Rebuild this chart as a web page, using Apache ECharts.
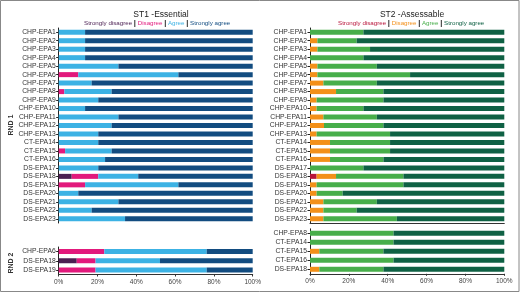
<!DOCTYPE html>
<html>
<head>
<meta charset="utf-8">
<script src="https://cdn.jsdelivr.net/npm/echarts@6/dist/echarts.min.js"></script>
<style>
html,body{margin:0;padding:0;background:#fff;}
#main{width:520px;height:293px;}
</style>
</head>
<body>
<div id="main"></div>
<script>
// categories
var cats1 = ['CHP-EPA1','CHP-EPA2','CHP-EPA3','CHP-EPA4','CHP-EPA5','CHP-EPA6','CHP-EPA7','CHP-EPA8','CHP-EPA9','CHP-EPA10','CHP-EPA11','CHP-EPA12','CHP-EPA13','CT-EPA14','CT-EPA15','CT-EPA16','DS-EPA17','DS-EPA18','DS-EPA19','DS-EPA20','DS-EPA21','DS-EPA22','DS-EPA23'];
var cats1r2 = ['CHP-EPA6','DS-EPA18','DS-EPA19'];
var cats2r2 = ['CHP-EPA8','CT-EPA14','CT-EPA15','CT-EPA16','DS-EPA18'];
var ticks = [0,20,40,60,80,100];

// ST1 essential, round 1
var st1_sd = [0,0,0,0,0,0,0,0,0,0,0,0,0,0,0,0,0,6.7,0,0,0,0,0];
var st1_d  = [0,0,0,0,0,10.1,0,2.9,0,0,0,0,0,0,3.3,0,0,13.7,13.6,0,0,0,0];
var st1_a  = [13.6,13.6,13.6,13.6,30.8,51.6,17,24.4,20.4,13.6,30.8,27.3,20.4,20.4,24,23.9,20.4,20.6,48.1,10.1,30.8,17,34.2];
var st1_sa = [86.4,86.4,86.4,86.4,69.2,38.3,83,72.7,79.6,86.4,69.2,72.7,79.6,79.6,72.7,76.1,79.6,59,38.3,89.9,69.2,83,65.8];
// ST1 essential, round 2
var st1r2_sd = [0,9.3,0];
var st1r2_d  = [23.5,9.7,19];
var st1r2_a  = [52.8,33.2,57.3];
var st1r2_sa = [23.7,47.8,23.7];

// ST2 assessable, round 1
var st2_sd = [0,0,0,0,0,0,0,0,0,0,0,0,0,0,0,0,0,3.4,0,0,0,0,0];
var st2_d  = [0,3.8,3.8,0,3.8,3.8,6.9,13.4,3.4,3.4,6.9,7.2,3.4,10.3,10.3,10.3,0,10,3.4,3.4,6.9,6.9,6.9];
var st2_a  = [27.5,20.2,27.1,27.5,30.6,47.7,27.5,24.4,34.4,24.1,27.5,30.6,37.8,30.9,30.9,27.5,27.5,34.7,44.7,13.4,27.5,17.1,37.8];
var st2_sa = [72.5,76,69.1,72.5,65.6,48.5,65.6,62.2,62.2,72.5,65.6,62.2,58.8,58.8,58.8,62.2,72.5,51.9,51.9,83.2,65.6,76,55.3];
// ST2 assessable, round 2
var st2r2_sd = [0,0,0,0,0];
var st2r2_d  = [0,0,4.8,0,4.8];
var st2r2_a  = [43,43,33,43,33];
var st2r2_sa = [57,57,62.2,57,62.2];

var col1 = ['#4b1f52','#e2197c','#3cb2e4','#124c80'];
var col2 = ['#b8143a','#f39019','#47ae4a','#0f6144'];
var font = 'Liberation Sans';

function xAx(grid,showLabel,showLine){
	return {
		type:'value', gridIndex:grid, min:ticks[0], max:ticks[ticks.length-1], interval:20,
		splitLine:{show:false},
		axisLine:{show:showLine,lineStyle:{color:'#333',width:1}},
		axisTick:{show:showLabel,length:2,lineStyle:{color:'#333'}},
		axisLabel:{show:showLabel,formatter:'{value}%',fontSize:6.5,color:'#444',fontFamily:font,margin:4}
	};
}
function yAx(grid,cats){
	return {
		type:'category', gridIndex:grid, data:cats, inverse:true,
		axisLine:{show:true,lineStyle:{color:'#222',width:1}},
		axisTick:{show:true,length:2.5,alignWithLabel:true,lineStyle:{color:'#222'}},
		axisLabel:{fontSize:6.8,color:'#333',fontFamily:font,margin:3,interval:0}
	};
}
function bars(idx,stack,cols,arrs){
	var out=[];
	for (var i = 0; i < arrs.length; i++) {
		out.push({
			type:'bar', xAxisIndex:idx, yAxisIndex:idx, stack:stack,
			data:arrs[i], barWidth:5, silent:true,
			itemStyle:{color:cols[i]}
		});
	}
	return out;
}
function legendText(x,cols){
	var fs=6.2;
	return {
		type:'text', left:x, top:19,
		style:{
			text:'{a|Strongly disagree} {s||} {b|Disagree} {s||} {c|Agree} {s||} {d|Strongly agree}',
			font:fs+'px '+font,
			rich:{
				a:{fill:cols[0],fontSize:fs,fontFamily:font},
				b:{fill:cols[1],fontSize:fs,fontFamily:font},
				c:{fill:cols[2],fontSize:fs,fontFamily:font},
				d:{fill:cols[3],fontSize:fs,fontFamily:font},
				s:{fill:'#222',fontSize:7.5,fontWeight:'bold',fontFamily:font}
			}
		}
	};
}

var myChart = echarts.init(document.getElementById('main'),null,{renderer:'canvas'});
var series = []
	.concat(bars(0,'a',col1,[st1_sd,st1_d,st1_a,st1_sa]))
	.concat(bars(1,'b',col1,[st1r2_sd,st1r2_d,st1r2_a,st1r2_sa]))
	.concat(bars(2,'c',col2,[st2_sd,st2_d,st2_a,st2_sa]))
	.concat(bars(3,'d',col2,[st2r2_sd,st2r2_d,st2r2_a,st2r2_sa]));

myChart.setOption({
	animation:false,
	backgroundColor:'#fff',
	title:[
		{text:'ST1 -Essential',left:156,top:5,textAlign:'center',textStyle:{fontSize:8.5,fontWeight:'normal',color:'#222',fontFamily:font}},
		{text:'ST2 -Assessable',left:407,top:5,textAlign:'center',textStyle:{fontSize:8.5,fontWeight:'normal',color:'#222',fontFamily:font}}
	],
	grid:[
		{left:58.7,right:267.3,top:28,height:195},
		{left:58.7,right:267.3,top:247,height:27.5},
		{left:310,right:15.7,top:28,height:195},
		{left:310,right:15.7,top:228.8,height:45}
	],
	xAxis:[xAx(0,false,false),xAx(1,true,true),xAx(2,false,true),xAx(3,true,true)],
	yAxis:[yAx(0,cats1),yAx(1,cats1r2),yAx(2,cats1),yAx(3,cats2r2)],
	series:series,
	graphic:[
		{type:'rect',shape:{x:0.5,y:0.5,width:518.5,height:291},style:{fill:'none',stroke:'#888',lineWidth:1}},
		legendText(84,col1),
		legendText(338,col2),
		{type:'text',x:11,y:125,rotation:Math.PI/2,style:{text:'RND 1',font:'bold 7px '+font,fill:'#333',textAlign:'center',textVerticalAlign:'middle'}},
		{type:'text',x:11,y:263,rotation:Math.PI/2,style:{text:'RND 2',font:'bold 7px '+font,fill:'#333',textAlign:'center',textVerticalAlign:'middle'}}
	]
});
</script>
</body>
</html>
